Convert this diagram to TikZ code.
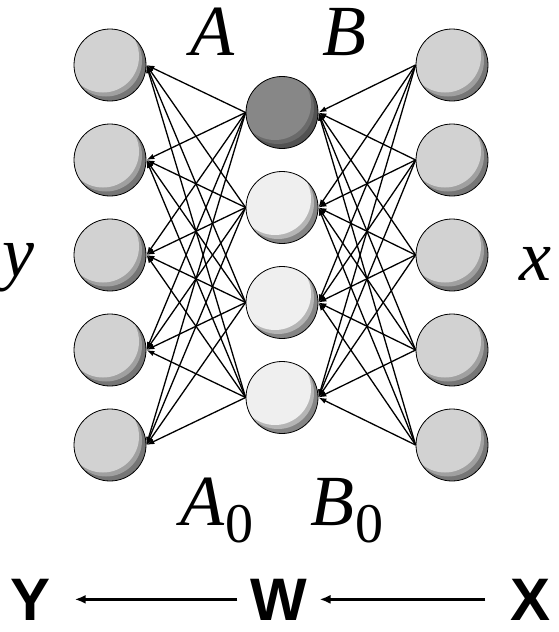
\documentclass[tikz,border=0pt]{standalone}
\usepackage{fontspec}
\setmainfont{Liberation Serif}
\newfontfamily\tnr{Liberation Serif}
\newfontfamily\hvbold{Liberation Sans}[BoldFont={Liberation Sans Bold}]
\usetikzlibrary{arrows.meta}
\newcommand{\lab}{\tnr\fontsize{72}{80}\selectfont\itshape}
\newcommand{\subz}{\raisebox{-17pt}{\tnr\fontsize{56}{60}\selectfont\upshape 0}}
\definecolor{faceL}{HTML}{D2D2D2}
\definecolor{midL}{HTML}{A0A0A0}
\definecolor{shadL}{HTML}{767676}
\definecolor{faceD}{HTML}{878787}
\definecolor{midD}{HTML}{6A6A6A}
\definecolor{shadD}{HTML}{525252}
\definecolor{faceW}{HTML}{EFEFEF}
\definecolor{midW}{HTML}{B5B5B5}
\definecolor{shadW}{HTML}{858585}
\tikzset{
  sphere/.style n args={3}{circle, minimum size=72pt, inner sep=0pt, draw=black, line width=0.8pt, fill=#3,
    path picture={
      \fill[#2] ([xshift=-4pt,yshift=4.5pt]path picture bounding box.center) circle[radius=36pt];
      \fill[#1] ([xshift=-7pt,yshift=8.5pt]path picture bounding box.center) circle[radius=36pt];
    }},
  outer/.style={sphere={faceL}{midL}{shadL}},
  darkmid/.style={sphere={faceD}{midD}{shadD}},
  lightmid/.style={sphere={faceW}{midW}{shadW}},
  link/.style={line width=1.3pt, -{Latex[length=8pt,width=5.5pt]}},
  bigarrow/.style={line width=2.4pt, -{Latex[length=11pt,width=9pt]}},
  lbl/.style={inner sep=0pt, anchor=base west},
  big/.style={inner sep=0pt, anchor=base, font=\hvbold\bfseries\fontsize{60}{64}\selectfont}
}
\begin{document}
\begin{tikzpicture}[x=1pt,y=-1pt]
\useasboundingbox (0,0) rectangle (558,632);
% outer columns
\foreach \i in {1,...,5} {
  \node[outer] (L\i) at (110,{65+95*(\i-1)}) {};
  \node[outer] (R\i) at (452,{65+95*(\i-1)}) {};
}
% middle column
\node[darkmid] (M1) at (282,112.5) {};
\node[lightmid] (M2) at (282,207.5) {};
\node[lightmid] (M3) at (282,302.5) {};
\node[lightmid] (M4) at (282,397.5) {};
% connections
\foreach \i in {1,...,5} {
  \foreach \j in {1,...,4} {
    \draw[link] (R\i.west) -- (M\j.east);
    \draw[link] (M\j.west) -- (L\i.east);
  }
}
% labels
\node[lbl] (A) at (190,55) {\lab A};
\node[lbl] (B) at (322,55) {\lab B};
\node[lbl] (A0) at (180,525) {\lab A\hspace{1pt}\subz};
\node[lbl] (B0) at (310,525) {\lab B\hspace{1pt}\subz};
\node[lbl] (ylab) at (2,276) {\lab y};
\node[lbl] (xlab) at (519,280) {\lab x};
% bottom row
\node[big] (Y) at (30.5,620) {Y};
\node[big] (W) at (279,620) {W};
\node[big] (X) at (530.5,620) {X};
\draw[bigarrow, shorten <=13pt, shorten >=24pt] (W.west) -- (Y.east);
\draw[bigarrow, shorten <=25pt, shorten >=12pt] (X.west) -- (W.east);
\end{tikzpicture}
\end{document}
